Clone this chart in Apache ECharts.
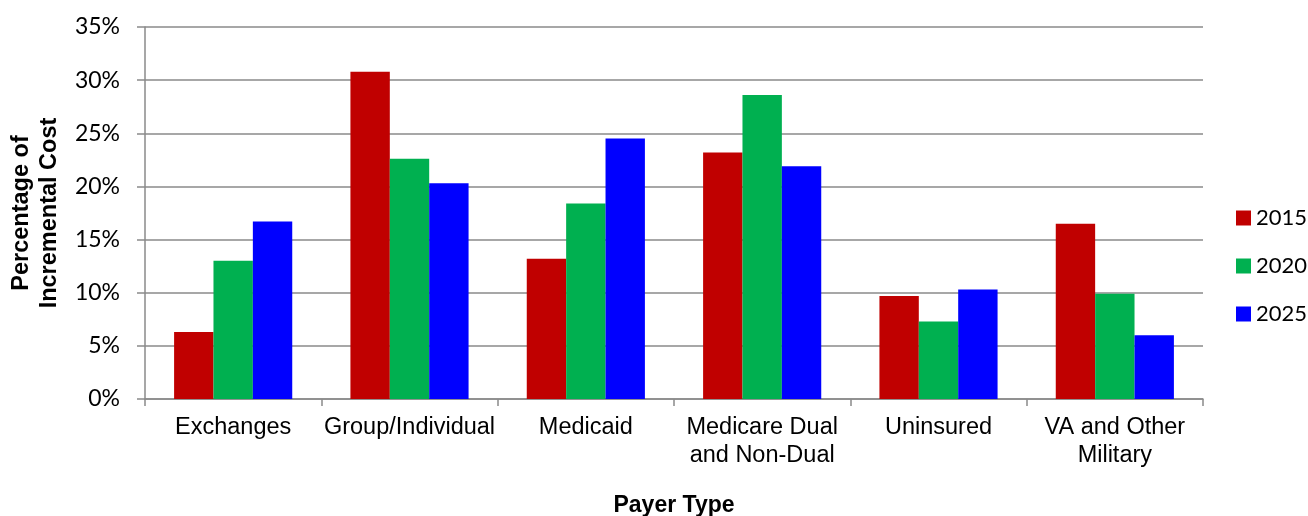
<!DOCTYPE html>
<html>
<head>
<meta charset="utf-8">
<script src="https://cdn.jsdelivr.net/npm/echarts@6/dist/echarts.min.js"></script>
<style>
  html, body { margin: 0; padding: 0; background: #fff; }
  #chart { width: 1308px; height: 516px; }
</style>
</head>
<body>
<div id="chart"></div>
<script>
// Payer types along the x axis
const categories = ['Exchanges', 'Group/Individual', 'Medicaid', 'Medicare Dual\nand Non-Dual', 'Uninsured', 'VA and Other\nMilitary'];
// Share of incremental cost (%) by year
const years = ['2015', '2020', '2025'];
const values2015 = [6.3, 30.8, 13.2, 23.2, 9.7, 16.5];
const values2020 = [13.0, 22.6, 18.4, 28.6, 7.3, 9.9];
const values2025 = [16.7, 20.3, 24.5, 21.9, 10.3, 6.0];
const yTicks = [0, 5, 10, 15, 20, 25, 30, 35];

const colors = ['#C00000', '#00B050', '#0000FF'];
const seriesValues = [values2015, values2020, values2025];

const gridColor = '#8a8a8a';
const chart = echarts.init(document.getElementById('chart'));

chart.setOption({
  animation: false,
  backgroundColor: '#ffffff',
  grid: { left: 145, right: 105, top: 27, bottom: 117, containLabel: false, outerBoundsMode: 'none' },
  legend: {
    orient: 'vertical',
    left: 1231,
    top: 202,
    itemWidth: 15,
    itemHeight: 15,
    itemGap: 26,
    icon: 'rect',
    data: years,
    textStyle: { fontFamily: 'Lato', fontSize: 22, color: '#000', lineHeight: 22 }
  },
  xAxis: {
    type: 'category',
    data: categories,
    name: 'Payer Type',
    nameLocation: 'middle',
    nameGap: 95,
    nameTextStyle: { fontFamily: 'Liberation Sans', fontWeight: 'bold', fontSize: 23, color: '#000' },
    axisLine: { lineStyle: { color: gridColor, width: 1.5 } },
    axisTick: { show: true, length: 7, alignWithLabel: false, lineStyle: { color: gridColor, width: 1.5 } },
    axisLabel: {
      interval: 0,
      margin: 15,
      fontFamily: 'Liberation Sans',
      fontSize: 23.5,
      lineHeight: 28,
      color: '#000'
    }
  },
  yAxis: {
    type: 'value',
    min: yTicks[0],
    max: yTicks[yTicks.length - 1],
    interval: 5,
    name: 'Percentage of\nIncremental Cost',
    nameLocation: 'middle',
    nameRotate: 90,
    nameGap: 79,
    nameTextStyle: { fontFamily: 'Liberation Sans', fontWeight: 'bold', fontSize: 23.5, lineHeight: 28, color: '#000' },
    axisLine: { show: true, lineStyle: { color: gridColor, width: 1.5 } },
    axisTick: { show: true, length: 8, lineStyle: { color: gridColor, width: 1.5 } },
    splitLine: { show: true, lineStyle: { color: gridColor, width: 1.5 } },
    axisLabel: {
      margin: 25,
      fontFamily: 'Lato',
      fontSize: 23,
      color: '#000',
      formatter: '{value}%'
    }
  },
  series: years.map((y, i) => ({
    name: y,
    type: 'bar',
    data: seriesValues[i],
    barGap: '0%',
    barCategoryGap: '33%',
    itemStyle: { color: colors[i] }
  }))
});
</script>
</body>
</html>
